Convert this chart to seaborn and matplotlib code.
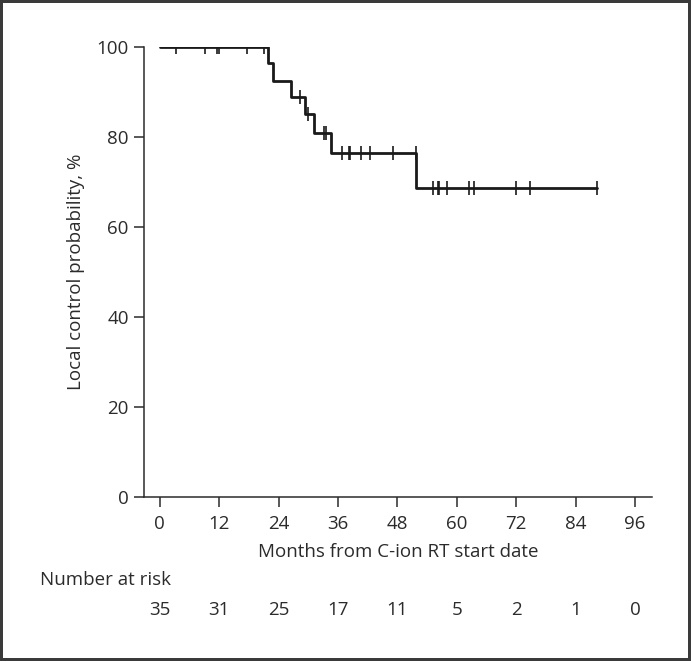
import numpy as np
import pandas as pd
import matplotlib
matplotlib.use("Agg")
import matplotlib.pyplot as plt
import seaborn as sns

# step curve (event times in months, local control %)
event_months = [0, 21.9, 22.9, 26.5, 29.3, 31.2, 34.5, 51.8]
survival_pct = [100, 96.4, 92.5, 88.9, 85.1, 81.0, 76.5, 68.7]
last_followup = 88.2

# censored observations
censor_months = [3.4, 9.1, 11.5, 11.9, 17.7, 21.1, 28.3, 29.9, 33.1, 33.6,
                 36.8, 38.2, 38.5, 40.7, 42.4, 47.1, 51.7, 55.2, 56.1, 56.3,
                 58.1, 62.5, 63.5, 71.9, 74.8, 88.2]

# number at risk table
risk_months = [0, 12, 24, 36, 48, 60, 72, 84, 96]
at_risk = [35, 31, 25, 17, 11, 5, 2, 1, 0]

ink = "#2b2b2b"
fs = 13.5
sns.set_style("ticks")
plt.rcParams['font.family'] = ['Open Sans', 'DejaVu Sans']
plt.rcParams['text.color'] = ink
plt.rcParams['axes.labelcolor'] = ink
plt.rcParams['xtick.color'] = ink
plt.rcParams['ytick.color'] = ink

curve = pd.DataFrame({"month": event_months + [last_followup],
                      "lc": survival_pct + [survival_pct[-1]]})

def level_at(t):
    idx = np.searchsorted(event_months, t, side="right") - 1
    return survival_pct[idx]

cens = pd.DataFrame({"month": censor_months,
                     "lc": [level_at(t) for t in censor_months]})

fig = plt.figure(figsize=(6.91, 6.61), dpi=100)
fig.patch.set_edgecolor("#3a3a3a")
fig.patch.set_linewidth(3)
ax = fig.add_axes([144 / 691, 164 / 661, 508 / 691, 450 / 661])

sns.lineplot(data=curve, x="month", y="lc", drawstyle="steps-post",
             color="#1a1a1a", linewidth=2.0, ax=ax)
sns.scatterplot(data=cens, x="month", y="lc", marker="|", s=100,
                color="#1a1a1a", linewidth=1.2, ax=ax)

ax.set_xlim(-3.16, 99.4)
ax.set_ylim(0, 100)
ax.set_xticks(risk_months)
ax.set_yticks([0, 20, 40, 60, 80, 100])
ax.tick_params(axis="both", labelsize=fs, length=7, width=1.1)
ax.tick_params(axis="x", pad=6)
ax.tick_params(axis="y", pad=4)
for s in ["top", "right"]:
    ax.spines[s].set_visible(False)
for s in ["left", "bottom"]:
    ax.spines[s].set_linewidth(1.1)
    ax.spines[s].set_color(ink)

ax.set_xlabel("Months from C-ion RT start date", fontsize=fs, labelpad=7)
ax.set_ylabel("Local control probability, %", fontsize=fs, labelpad=8)

fig.text(40 / 691, 1 - 580 / 661, "Number at risk", fontsize=fs,
         ha="left", va="center")
for m, n in zip(risk_months, at_risk):
    ax.text(m, -0.251, str(n), transform=ax.get_xaxis_transform(),
            fontsize=fs, ha="center", va="center")

fig.savefig("out.png", dpi=100, edgecolor=fig.get_edgecolor())
